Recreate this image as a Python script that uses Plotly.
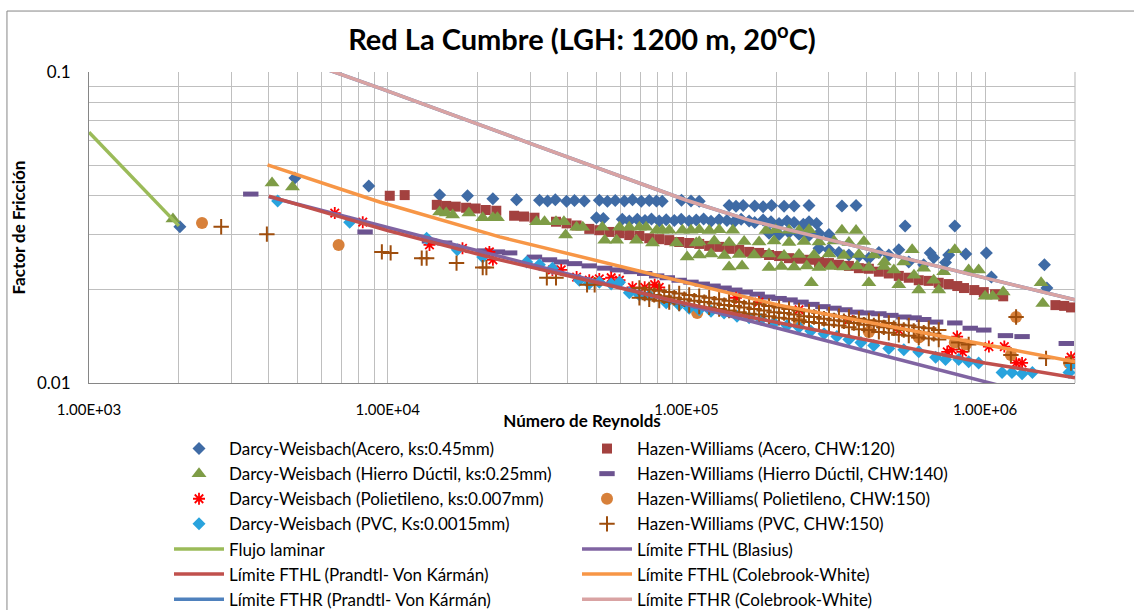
import plotly.graph_objects as go

# ---------------- data (Reynolds number, friction factor) ----------------
dw_acero = [
    (2015, 0.0318), (4890, 0.0456), (8640, 0.0430), (14920, 0.0402), (18500, 0.0400), (22500, 0.0391), (27000, 0.0388),
    (32230, 0.0387), (34300, 0.0385), (36400, 0.0388), (39700, 0.0384), (42200, 0.0386), (45500, 0.0385), (51100, 0.0387),
    (54400, 0.0384), (57800, 0.0386), (62000, 0.0385), (66000, 0.0388), (70600, 0.0384), (75100, 0.0386), (79400, 0.0385),
    (83000, 0.0384), (96300, 0.0387), (103600, 0.0385), (110400, 0.0384),
    (139000, 0.0372), (146600, 0.0370), (154900, 0.0372), (169300, 0.0371), (180700, 0.0369), (192800, 0.0372),
    (212300, 0.0370), (229300, 0.0371), (257300, 0.0372), (331700, 0.0371), (369800, 0.0372),
    (50000, 0.0340), (52700, 0.0338), (61000, 0.0336), (64400, 0.0332), (68500, 0.0336), (72700, 0.0333), (76400, 0.0337),
    (81100, 0.0332), (85600, 0.0335), (91100, 0.0333), (96100, 0.0336), (102200, 0.0332), (107900, 0.0334), (114200, 0.0337),
    (120900, 0.0331), (128700, 0.0335), (136700, 0.0333), (144600, 0.0330), (152500, 0.0336), (162200, 0.0332),
    (169300, 0.0328), (180700, 0.0334), (192000, 0.0330), (204300, 0.0326), (217300, 0.0332), (229300, 0.0328),
    (246300, 0.0324), (257300, 0.0330), (272800, 0.0326),
    (189100, 0.0303), (204300, 0.0300), (220600, 0.0305), (238300, 0.0301), (257300, 0.0298), (277900, 0.0303), (300100, 0.0300),
    (277900, 0.0271), (300100, 0.0268), (324100, 0.0263), (350000, 0.0258), (378000, 0.0256), (408200, 0.0252),
    (440900, 0.0263), (476100, 0.0258), (514200, 0.0268),
    (540000, 0.0320), (792000, 0.0320), (655000, 0.0262), (755400, 0.0258), (862000, 0.0260), (1010000, 0.0262),
    (1050000, 0.0219), (1580000, 0.0240), (1610000, 0.0202), (555300, 0.0245), (623000, 0.0240), (673000, 0.0253), (737000, 0.0244),
]

hw_acero = [
    (10160, 0.0400), (11400, 0.0402), (14600, 0.0374), (15700, 0.0371), (16900, 0.0369), (18300, 0.0366), (19700, 0.0364),
    (21300, 0.0360), (23100, 0.0358), (26500, 0.0345), (28600, 0.0343), (31000, 0.0340), (36600, 0.0330), (39700, 0.0326),
    (42900, 0.0321), (47300, 0.0313), (51100, 0.0310), (55200, 0.0306), (59700, 0.0303), (64400, 0.0299), (69600, 0.0297),
    (75100, 0.0292), (81100, 0.0290), (87600, 0.0288), (94600, 0.0284), (102200, 0.0282), (110400, 0.0280), (119200, 0.0276),
    (128700, 0.0274), (139000, 0.0270), (150200, 0.0268), (162200, 0.0264), (175100, 0.0262), (189100, 0.0258),
    (204300, 0.0256), (220600, 0.0252), (238300, 0.0251), (257300, 0.0249), (277900, 0.0245), (300100, 0.0243),
    (324100, 0.0240), (350000, 0.0238), (378000, 0.0234), (408200, 0.0233), (440900, 0.0228), (476100, 0.0225),
    (514200, 0.0221), (555300, 0.0218), (599700, 0.0214), (647700, 0.0213), (699500, 0.0210), (755400, 0.0208),
    (807000, 0.0205), (850000, 0.0202), (920000, 0.0199), (990000, 0.0196), (1080000, 0.0193), (1150000, 0.0190),
    (1720000, 0.0178), (1840000, 0.0177), (1940000, 0.0175),
]

dw_hierro = [
    (1910, 0.0337), (4100, 0.0440), (4800, 0.0427), (14920, 0.0355), (15700, 0.0352), (16500, 0.0347), (18700, 0.0352),
    (20800, 0.0340), (22500, 0.0340), (23300, 0.0340), (31500, 0.0330), (33500, 0.0330), (36600, 0.0330), (38900, 0.0330),
    (39400, 0.0299), (42900, 0.0317), (45000, 0.0317), (52300, 0.0317), (53300, 0.0288), (58400, 0.0288), (59700, 0.0317),
    (64400, 0.0317), (68000, 0.0288), (69600, 0.0317), (73300, 0.0317), (77000, 0.0282), (79500, 0.0310), (83000, 0.0310),
    (87600, 0.0310), (92600, 0.0282), (97000, 0.0310), (100600, 0.0254), (103600, 0.0310), (107900, 0.0282),
    (110400, 0.0311), (119200, 0.0309), (128700, 0.0311), (143000, 0.0310), (184700, 0.0309), (199000, 0.0311),
    (220600, 0.0310), (238300, 0.0309), (257300, 0.0311), (331700, 0.0310), (369800, 0.0309),
    (110400, 0.0284), (124000, 0.0286), (139000, 0.0283), (156100, 0.0285), (175100, 0.0284), (196600, 0.0286),
    (220600, 0.0283), (247600, 0.0285), (277900, 0.0284), (311900, 0.0286), (350000, 0.0283), (392800, 0.0285),
    (110400, 0.0258), (121000, 0.0260), (133900, 0.0257), (150200, 0.0259), (168600, 0.0258), (189100, 0.0260),
    (212300, 0.0257), (238300, 0.0259), (267400, 0.0258), (300100, 0.0260), (336800, 0.0257), (378000, 0.0259), (424200, 0.0258),
    (139000, 0.0236), (153600, 0.0238), (189100, 0.0235), (208000, 0.0237), (229300, 0.0236), (253000, 0.0238),
    (277900, 0.0235), (305000, 0.0237), (336800, 0.0236), (373000, 0.0238), (408200, 0.0235), (458100, 0.0237),
    (262000, 0.0210), (408200, 0.0210),
    (570000, 0.0268), (792000, 0.0268), (460000, 0.0245), (495000, 0.0231), (534000, 0.0245), (578000, 0.0222),
    (623000, 0.0234), (673000, 0.0214), (727000, 0.0228), (514200, 0.0207), (599700, 0.0199), (699500, 0.0199),
    (881100, 0.0231), (951500, 0.0231), (1000000, 0.0190), (1060000, 0.0190), (1150000, 0.0196), (1540000, 0.0210),
    (1560000, 0.0180),
]

hw_hierro = [
    (3480, 0.0405), (8400, 0.0306), (13800, 0.0286), (15500, 0.0282), (21100, 0.0266), (23300, 0.0264), (25600, 0.0262),
    (31000, 0.0254), (34800, 0.0249), (38100, 0.0245), (42200, 0.0242), (47300, 0.0238), (53300, 0.0234), (58800, 0.0231),
    (65400, 0.0228), (72500, 0.0225), (79500, 0.0221), (86300, 0.0218), (94600, 0.0214), (103600, 0.0211),
    (113000, 0.0208), (122800, 0.0205), (133700, 0.0202), (145200, 0.0199), (157400, 0.0196), (172600, 0.0193),
    (187200, 0.0189), (204300, 0.0187), (222300, 0.0185), (242000, 0.0182), (263200, 0.0179), (286500, 0.0176),
    (311900, 0.0174), (339300, 0.0172), (369800, 0.0169), (402000, 0.0168), (440900, 0.0167), (483700, 0.0165),
    (534500, 0.0163), (578700, 0.0162), (623300, 0.0160), (683000, 0.0157), (792000, 0.0156), (892000, 0.0150),
    (990000, 0.0148), (1170000, 0.0142), (1330000, 0.0141), (1870000, 0.0134),
]

dw_polietileno = [
    (6650, 0.0352), (8250, 0.0329), (13800, 0.0278), (17800, 0.0271), (21900, 0.0264), (22500, 0.0249), (35600, 0.0231),
    (38100, 0.0231), (42900, 0.0219), (47300, 0.0214), (51100, 0.0216), (56000, 0.0218), (59700, 0.0214), (66000, 0.0203),
    (72500, 0.0203), (78300, 0.0207), (81100, 0.0203), (146600, 0.0188), (175000, 0.0182), (238300, 0.0172),
    (350000, 0.0160), (514200, 0.0148), (747000, 0.0126), (775000, 0.0128), (806000, 0.0141), (840000, 0.0126),
    (1030000, 0.0131), (1160000, 0.0131), (1270000, 0.0116), (1330000, 0.0116), (1940000, 0.0121), (1940000, 0.0115),
]

hw_polietileno = [
    (2390, 0.0327), (6850, 0.0278), (108700, 0.0168), (238300, 0.0156), (408200, 0.0146), (600000, 0.0140),
    (792000, 0.0135), (862000, 0.0133), (1220000, 0.0123), (1270000, 0.0163), (1910000, 0.0116),
]

dw_pvc = [
    (4280, 0.0385), (7460, 0.0329), (13500, 0.0292), (17100, 0.0268), (20800, 0.0254), (29200, 0.0245), (32200, 0.0240),
    (35600, 0.0234), (43800, 0.0214), (47300, 0.0209), (51100, 0.0211), (56000, 0.0208), (59700, 0.0211), (64400, 0.0195),
    (69600, 0.0192), (75100, 0.0191), (85600, 0.0181), (94600, 0.0178), (102200, 0.0174), (110400, 0.0172),
    (120900, 0.0170), (133700, 0.0168), (147700, 0.0164), (162200, 0.0162), (178000, 0.0160), (196500, 0.0156),
    (217300, 0.0153), (238300, 0.0151), (261000, 0.0147), (289000, 0.0144), (319000, 0.0141), (350000, 0.0138),
    (384000, 0.0135), (424000, 0.0132), (476100, 0.0129), (534500, 0.0128), (599700, 0.0126), (683000, 0.0121),
    (737000, 0.0119), (815800, 0.0119), (881100, 0.0117), (951500, 0.0116), (1140000, 0.0108), (1230000, 0.0108),
    (1330000, 0.0107), (1440000, 0.0108), (1910000, 0.0108), (1940000, 0.0114),
]

hw_pvc = [
    (2770, 0.0318), (3940, 0.0301), (9560, 0.0264), (10230, 0.0262), (13000, 0.0252), (13500, 0.0252), (17000, 0.0243),
    (20800, 0.0235), (21400, 0.0235), (34100, 0.0218), (36600, 0.0218), (46500, 0.0207), (49300, 0.0207),
    (69600, 0.0202), (69600, 0.0188), (75100, 0.0200), (75100, 0.0186), (81100, 0.0198), (81100, 0.0184),
    (87600, 0.0196), (87600, 0.0182), (94600, 0.0194), (94600, 0.0180), (102200, 0.0192), (102200, 0.0178),
    (110400, 0.0190), (110400, 0.0176), (119200, 0.0188), (119200, 0.0175), (128700, 0.0186), (128700, 0.0173),
    (139000, 0.0184), (139000, 0.0171), (150200, 0.0182), (150200, 0.0169), (162200, 0.0180), (162200, 0.0167),
    (175100, 0.0179), (175100, 0.0166), (189100, 0.0177), (189100, 0.0164), (204300, 0.0175), (204300, 0.0162),
    (220600, 0.0173), (220600, 0.0161), (238300, 0.0171), (238300, 0.0159), (257300, 0.0170), (257300, 0.0157),
    (277900, 0.0168), (277900, 0.0156), (300100, 0.0166), (300100, 0.0154), (324100, 0.0164), (324100, 0.0153),
    (350000, 0.0163), (350000, 0.0151), (378000, 0.0161), (378000, 0.0149), (408200, 0.0159), (408200, 0.0148),
    (440900, 0.0158), (440900, 0.0146), (476100, 0.0156), (476100, 0.0145), (514200, 0.0154), (514200, 0.0143),
    (555300, 0.0153), (555300, 0.0142), (599700, 0.0151), (599700, 0.0140), (647700, 0.0150), (647700, 0.0139),
    (699500, 0.0148), (699500, 0.0138),
    (72500, 0.0194), (78000, 0.0192), (84300, 0.0190), (91100, 0.0188), (98400, 0.0186), (106300, 0.0184),
    (114800, 0.0182), (124000, 0.0180), (133900, 0.0178), (144600, 0.0177), (156100, 0.0175), (168600, 0.0173),
    (182000, 0.0171), (196600, 0.0169), (212300, 0.0168), (229300, 0.0166), (247600, 0.0164), (267400, 0.0163),
    (288800, 0.0161), (311900, 0.0159), (336800, 0.0158), (363700, 0.0156), (392800, 0.0154), (424200, 0.0153),
    (458100, 0.0151), (494800, 0.0150), (534300, 0.0148), (577000, 0.0147), (623200, 0.0145), (673000, 0.0144),
    (815800, 0.0135), (881100, 0.0133), (1270000, 0.0163), (1220000, 0.0123), (1600000, 0.0120), (1940000, 0.0116),
]

flujo_laminar = [(1000, 0.064), (2000, 0.032)]
blasius = [(4000, 0.0397), (2000000, 0.0085)]
fthl_prandtl = [(4000, 0.0399), (10000, 0.0309), (23700, 0.0249), (100000, 0.0180), (162200, 0.0163),
                (1000000, 0.0116), (2000000, 0.0104)]
fthl_colebrook = [(3960, 0.0503), (9400, 0.0382), (23700, 0.0295), (204300, 0.0178), (2000000, 0.0117)]
fthr_prandtl = [(5000, 0.110), (9400, 0.0888), (29800, 0.0591), (100000, 0.0387), (162000, 0.0334),
                (500000, 0.0257), (2000000, 0.0185)]
fthr_colebrook = [(5000, 0.110), (9400, 0.0888), (29800, 0.0591), (100000, 0.0387), (162000, 0.0334),
                  (500000, 0.0257), (2000000, 0.0185)]

x_tickvals = [1e3, 1e4, 1e5, 1e6]
x_ticktext = ["1.00E+03", "1.00E+04", "1.00E+05", "1.00E+06"]
y_tickvals = [0.01, 0.1]
y_ticktext = ["0.01", "0.1"]

# ---------------- figure ----------------
FONT = "Lato"
fig = go.Figure()


def xs(pts):
    return [p[0] for p in pts]


def ys(pts):
    return [p[1] for p in pts]


def add_markers(pts, name, symbol, color, size, line=None):
    marker = dict(symbol=symbol, color=color, size=size)
    marker["line"] = line if line is not None else dict(width=0)
    fig.add_trace(go.Scatter(x=xs(pts), y=ys(pts), mode="markers", name=name, marker=marker))


def add_line(pts, name, color):
    fig.add_trace(go.Scatter(x=xs(pts), y=ys(pts), mode="lines", name=name,
                             line=dict(color=color, width=3.5)))


add_markers(dw_acero, "Darcy-Weisbach(Acero, ks:0.45mm)", "diamond", "#3F6BA5", 10)
add_markers(hw_acero, "Hazen-Williams (Acero, CHW:120)", "square", "#A3413F", 10)
add_markers(dw_hierro, "Darcy-Weisbach (Hierro Dúctil, ks:0.25mm)", "triangle-up", "#7E9C46", 13)
add_markers(hw_hierro, "Hazen-Williams (Hierro Dúctil, CHW:140)", "line-ew", "#6C5390", 11,
            line=dict(color="#6C5390", width=5))
add_markers(dw_polietileno, "Darcy-Weisbach (Polietileno, ks:0.007mm)", "asterisk-open", "#FF0000", 10,
            line=dict(color="#FF0000", width=1.8))
add_markers(hw_polietileno, "Hazen-Williams( Polietileno, CHW:150)", "circle", "#D7803A", 12)
add_markers(dw_pvc, "Darcy-Weisbach (PVC, Ks:0.0015mm)", "diamond", "#29A3DD", 10)
add_markers(hw_pvc, "Hazen-Williams (PVC, CHW:150)", "cross-thin-open", "#9E4D0C", 11,
            line=dict(color="#9E4D0C", width=2))
add_line(flujo_laminar, "Flujo laminar", "#9BBB59")
add_line(blasius, "Límite FTHL (Blasius)", "#8064A2")
add_line(fthl_prandtl, "Límite FTHL (Prandtl- Von Kármán)", "#C0504D")
add_line(fthl_colebrook, "Límite FTHL (Colebrook-White)", "#F79646")
add_line(fthr_prandtl, "Límite FTHR (Prandtl- Von Kármán)", "#4F81BD")
add_line(fthr_colebrook, "Límite FTHR (Colebrook-White)", "#D9A3A3")

grid_color = "#BFBFBF"
TITLE_FONT = dict(family=FONT, size=17, color="#000000")

fig.update_xaxes(type="log", range=[3, 6.30103], tickvals=x_tickvals, ticktext=x_ticktext,
                 showgrid=True, gridcolor=grid_color, gridwidth=1.2,
                 minor=dict(showgrid=True, gridcolor=grid_color, gridwidth=1.2, dtick="D1", ticks=""),
                 showline=True, linecolor="#868686", linewidth=1.2, zeroline=False,
                 ticks="", ticklabelstandoff=13, automargin=True,
                 tickfont=dict(family=FONT, size=15, color="#000000"),
                 title=dict(text="<b>Número de Reynolds</b>", font=TITLE_FONT, standoff=9))
fig.update_yaxes(type="log", range=[-2, -1], tickvals=y_tickvals, ticktext=y_ticktext,
                 showgrid=True, gridcolor=grid_color, gridwidth=1.2,
                 minor=dict(showgrid=True, gridcolor=grid_color, gridwidth=1.2, dtick="D1", ticks=""),
                 showline=True, linecolor="#868686", linewidth=1.2, zeroline=False,
                 ticks="", ticklabelstandoff=14, automargin=True,
                 tickfont=dict(family=FONT, size=17, color="#000000"),
                 title=dict(text="<b>Factor de Fricción</b>", font=TITLE_FONT, standoff=6))

# right edge of the plot area (grid line at the end of the x range)
fig.add_shape(type="line", xref="paper", yref="paper", x0=1, x1=1, y0=0, y1=1,
              line=dict(color=grid_color, width=1.2), layer="below")
# outer chart frame
fig.add_shape(type="rect", xref="paper", yref="paper",
              x0=-0.0832, x1=1.07, y0=-0.75, y1=1.196,
              line=dict(color="#868686", width=1), layer="below")

fig.update_layout(
    width=1134, height=610,
    margin=dict(l=89, r=59, t=72, b=227, autoexpand=False),
    paper_bgcolor="white", plot_bgcolor="white",
    font=dict(family=FONT, color="#000000"),
    title=dict(text="<b>Red La Cumbre (LGH: 1200 m, 20<sup>o</sup>C)</b>",
               x=0.5, xref="paper", xanchor="center",
               y=1 - 40 / 610, yref="container", yanchor="middle",
               font=dict(family=FONT, size=29, color="#000000")),
    showlegend=True,
    legend=dict(orientation="h", xref="container", yref="container",
                x=169 / 1134, y=1 - 431 / 610, xanchor="left", yanchor="top",
                entrywidth=343, entrywidthmode="pixels", itemwidth=50,
                font=dict(family=FONT, size=17, color="#000000"),
                bgcolor="rgba(0,0,0,0)", traceorder="normal"),
)

fig.write_html("out.html", config={"displayModeBar": False},
               post_script="document.body.style.margin='0px';")
